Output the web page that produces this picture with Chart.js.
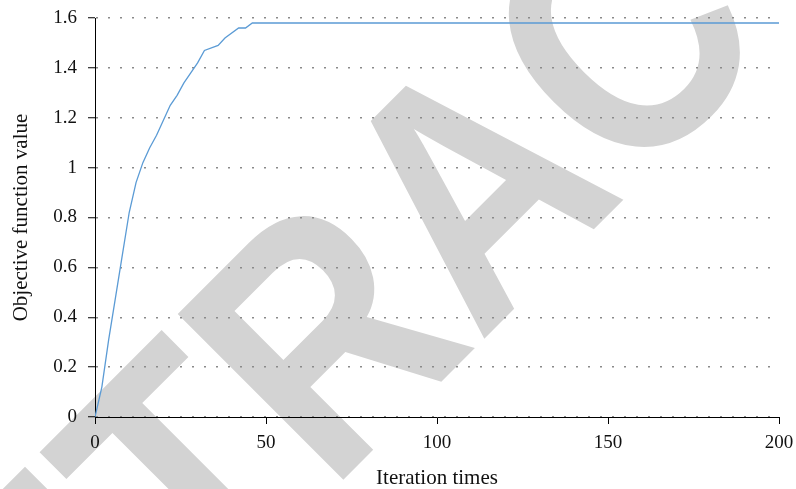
<!DOCTYPE html>
<html>
<head>
<meta charset="utf-8">
<script src="https://cdn.jsdelivr.net/npm/chart.js@4.4.1/dist/chart.umd.min.js"></script>
<style>
  html, body { margin: 0; padding: 0; background: #fff; }
  #wrap { width: 796px; height: 489px; position: relative; }
</style>
</head>
<body>
<div id="wrap"><canvas id="objChart"></canvas></div>
<script>
// Iteration index and objective value
const iterations = [0, 2, 4, 6, 8, 10, 12, 14, 16, 18, 20, 22, 24, 26, 28, 30, 32, 36, 38, 42, 44, 46, 200];
const objectiveValues = [0, 0.12, 0.31, 0.48, 0.65, 0.82, 0.94, 1.02, 1.08, 1.13, 1.19, 1.25, 1.29, 1.34, 1.38, 1.42, 1.47, 1.49, 1.52, 1.56, 1.56, 1.58, 1.58];
const xTicks = [0, 50, 100, 150, 200];
const yTicks = [0, 0.2, 0.4, 0.6, 0.8, 1, 1.2, 1.4, 1.6];
const watermarkText = "RETRACTED";

const serif = "'Liberation Serif', 'DejaVu Serif', serif";

// big grey stamp drawn behind everything
const watermark = {
  id: "watermark",
  beforeDraw(chart) {
    const ctx = chart.ctx;
    ctx.save();
    ctx.translate(554, 269);
    ctx.rotate(-Math.PI / 4);
    ctx.scale(0.977, 1.135);
    ctx.fillStyle = "#d3d3d3";
    ctx.font = "bold 300px 'Liberation Sans', Arial, sans-serif";
    ctx.textAlign = "center";
    ctx.textBaseline = "alphabetic";
    ctx.fillText(watermarkText, 0, 0);
    ctx.restore();
  },
};

const ctx = document.getElementById("objChart").getContext("2d");

new Chart(ctx, {
  type: "line",
  data: {
    datasets: [
      {
        data: iterations.map((it, i) => ({ x: it, y: objectiveValues[i] })),
        borderColor: "#5b9bd5",
        borderWidth: 1.3,
        pointRadius: 0,
        tension: 0,
        fill: false,
      },
    ],
  },
  options: {
    responsive: true,
    maintainAspectRatio: false,
    animation: false,
    layout: { padding: { top: 18, right: 17, left: 0, bottom: 0 } },
    plugins: {
      legend: { display: false },
      tooltip: { enabled: false },
    },
    scales: {
      x: {
        type: "linear",
        min: 0,
        max: 200,
        afterBuildTicks: (scale) => {
          scale.ticks = xTicks.map((v) => ({ value: v }));
        },
        afterFit: (scale) => {
          scale.height = 72;
          scale.paddingLeft = 0;
          scale.paddingRight = 0;
        },
        grid: {
          drawOnChartArea: false,
          tickLength: 7,
          tickColor: "#000",
          tickWidth: 1,
        },
        border: { color: "#000", width: 1 },
        ticks: {
          color: "#111",
          padding: 8,
          maxRotation: 0,
          font: { family: serif, size: 19 },
        },
        title: {
          display: true,
          text: "Iteration times",
          color: "#111",
          padding: { top: 0, bottom: 0 },
          font: { family: serif, size: 21, lineHeight: 1 },
        },
      },
      y: {
        min: 0,
        max: 1.6,
        afterBuildTicks: (scale) => {
          scale.ticks = yTicks.map((v) => ({ value: v }));
        },
        afterFit: (scale) => {
          scale.width = 95;
          scale.paddingTop = 0;
          scale.paddingBottom = 0;
        },
        grid: {
          color: "#8a8a8a",
          lineWidth: 1.5,
          tickLength: 7,
          tickColor: "#000",
          tickWidth: 1,
          tickBorderDash: [],
        },
        border: { color: "#000", width: 1, dash: [2, 10] },
        ticks: {
          color: "#111",
          padding: 11,
          font: { family: serif, size: 19 },
          callback: (v) => String(v),
        },
        title: {
          display: true,
          text: "Objective function value",
          color: "#111",
          padding: { top: 9, bottom: 0 },
          font: { family: serif, size: 21 },
        },
      },
    },
  },
  plugins: [watermark],
});
</script>
</body>
</html>
